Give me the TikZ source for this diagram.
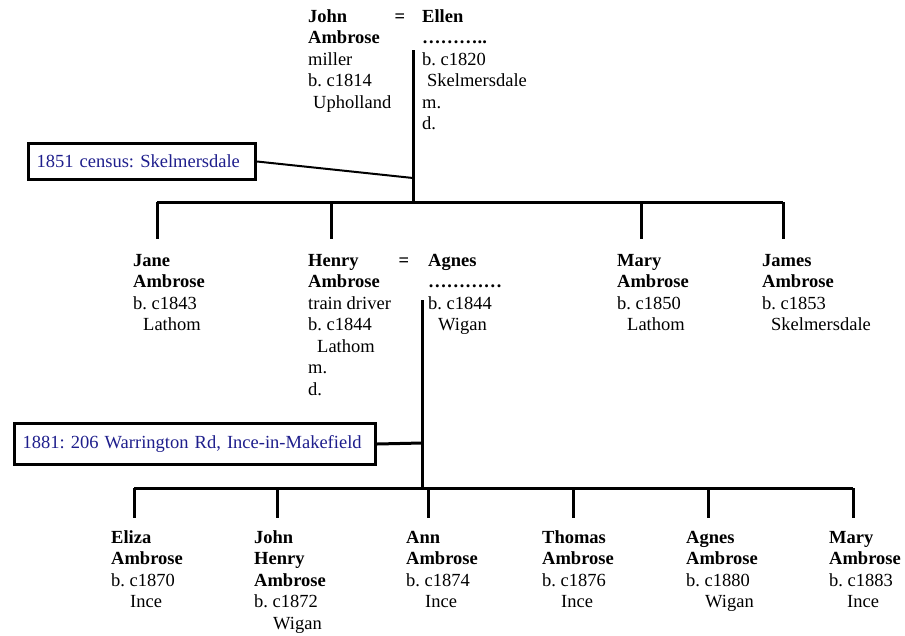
\documentclass[tikz,border=0pt]{standalone}
\usepackage{fontspec}
\setmainfont{Liberation Serif}
\frenchspacing
\definecolor{censusblue}{RGB}{30,30,140}
\newcommand{\pinfo}[1]{\begin{tabular}[t]{@{}l@{}}#1\end{tabular}}
\begin{document}
\begin{tikzpicture}[x=1pt,y=-1pt,
  tree/.style={line width=3pt},
  person/.style={anchor=base west, inner sep=0pt, font=\fontsize{18.5}{21.5}\selectfont},
  eqsign/.style={anchor=base, inner sep=0pt, font=\fontsize{18.5}{21.5}\selectfont\bfseries},
  censusbox/.style={draw, line width=3pt, text=censusblue, anchor=north west,
    font=\fontsize{18.5}{21.5}\selectfont, inner xsep=8pt, inner ysep=0pt, align=left},
  thin/.style={line width=2pt}]
\useasboundingbox (0,0) rectangle (905,635);

% ---------- generation 1 ----------
\node[person] (john) at (308,22) {\pinfo{\textbf{John}\\\textbf{Ambrose}\\miller\\b. c1814\\\hspace*{5pt}Upholland}};
\node[eqsign] (eq1) at (400,22) {=};
\node[person] (ellen) at (422,22) {\pinfo{\textbf{Ellen}\\\textbf{………..}\\b. c1820\\\hspace*{5pt}Skelmersdale\\m.\\d.}};

\coordinate (m1) at (413,50);
\coordinate (j1) at (413,178);
\coordinate (b1) at (413,202);
\draw[tree] (m1) -- (b1);

\node[censusbox, text width=211pt, minimum height=36pt] (c1) at (27,142) {1851 census: Skelmersdale};
\draw[thin] (c1.east) -- (j1);

% bar 1
\coordinate (bar1l) at (157,202);
\coordinate (bar1r) at (783,202);
\draw[tree] (bar1l) -- (bar1r);
\coordinate (d1a) at (157,239);
\coordinate (t1b) at (331,202);
\coordinate (d1b) at (331,239);
\coordinate (t1c) at (641,202);
\coordinate (d1c) at (641,239);
\coordinate (d1d) at (783,239);
\draw[tree] (bar1l) -- (d1a);
\draw[tree] (t1b) -- (d1b);
\draw[tree] (t1c) -- (d1c);
\draw[tree] (bar1r) -- (d1d);

% ---------- generation 2 ----------
\node[person] (jane) at (133,266) {\pinfo{\textbf{Jane}\\\textbf{Ambrose}\\b. c1843\\\hspace*{10pt}Lathom}};
\node[person] (henry) at (308,266) {\pinfo{\textbf{Henry}\\\textbf{Ambrose}\\train driver\\b. c1844\\\hspace*{9pt}Lathom\\m.\\d.}};
\node[eqsign] (eq2) at (404,266) {=};
\node[person] (agnes) at (428,266) {\pinfo{\textbf{Agnes}\\\textbf{…………}\\b. c1844\\\hspace*{10pt}Wigan}};
\node[person] (mary) at (617,266) {\pinfo{\textbf{Mary}\\\textbf{Ambrose}\\b. c1850\\\hspace*{10pt}Lathom}};
\node[person] (james) at (762,266) {\pinfo{\textbf{James}\\\textbf{Ambrose}\\b. c1853\\\hspace*{9pt}Skelmersdale}};

\coordinate (m2) at (422,300);
\coordinate (j2) at (422,443);
\coordinate (b2) at (422,488);
\draw[tree] (m2) -- (b2);

\node[censusbox, text width=345pt, minimum height=41pt] (c2) at (13,422) {1881: 206 Warrington Rd, Ince-in-Makefield};
\draw[tree] (c2.east) -- (j2);

% bar 2
\coordinate (bar2l) at (134,488);
\coordinate (bar2r) at (853,488);
\draw[tree] (bar2l) -- (bar2r);
\foreach \x/\n in {134/a,277/b,428/c,573/d,708/e,853/f}{
  \coordinate (t2\n) at (\x,488);
  \coordinate (d2\n) at (\x,518);
  \draw[tree] (t2\n) -- (d2\n);
}

% ---------- generation 3 ----------
\node[person] (eliza) at (111,543) {\pinfo{\textbf{Eliza}\\\textbf{Ambrose}\\b. c1870\\\hspace*{19pt}Ince}};
\node[person] (johnh) at (254,543) {\pinfo{\textbf{John}\\\textbf{Henry}\\\textbf{Ambrose}\\b. c1872\\\hspace*{19pt}Wigan}};
\node[person] (ann) at (406,543) {\pinfo{\textbf{Ann}\\\textbf{Ambrose}\\b. c1874\\\hspace*{19pt}Ince}};
\node[person] (thomas) at (542,543) {\pinfo{\textbf{Thomas}\\\textbf{Ambrose}\\b. c1876\\\hspace*{19pt}Ince}};
\node[person] (agnes2) at (686,543) {\pinfo{\textbf{Agnes}\\\textbf{Ambrose}\\b. c1880\\\hspace*{19pt}Wigan}};
\node[person] (mary2) at (829,543) {\pinfo{\textbf{Mary}\\\textbf{Ambrose}\\b. c1883\\\hspace*{18pt}Ince}};
\end{tikzpicture}
\end{document}
